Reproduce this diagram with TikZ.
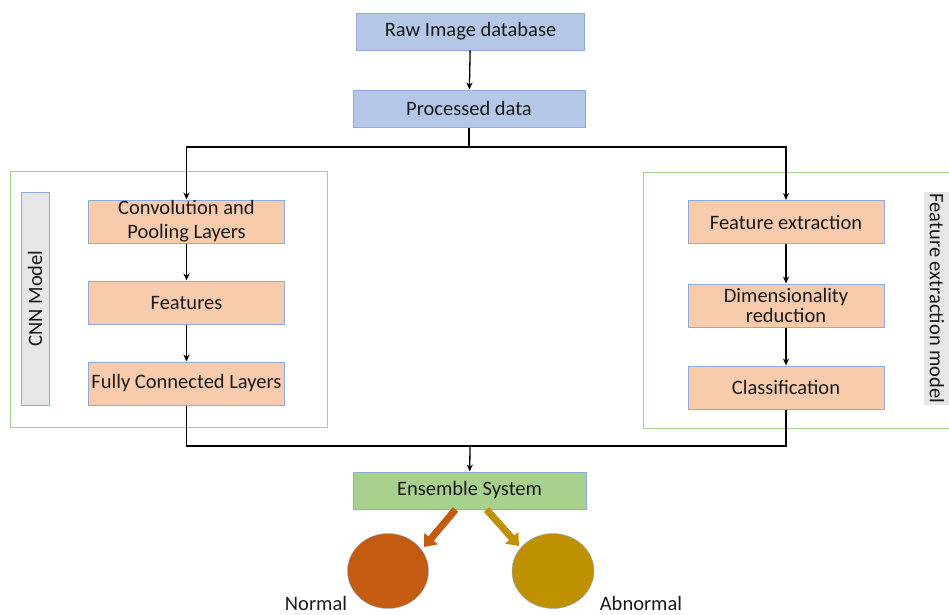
\documentclass[tikz,border=0pt]{standalone}
\usepackage{fontspec}
\setmainfont{Carlito}
\usetikzlibrary{arrows.meta,shapes.geometric}
\definecolor{boxblue}{HTML}{B4C7E7}
\definecolor{edgeblue}{HTML}{8FAADC}
\definecolor{boxorange}{HTML}{F8CBAD}
\definecolor{boxgreen}{HTML}{A9D18E}
\definecolor{tagray}{HTML}{E7E6E6}
\definecolor{normalc}{HTML}{C55A11}
\definecolor{abnormc}{HTML}{BF9000}
\tikzset{
  blue box/.style={draw=edgeblue,line width=1pt,fill=boxblue,minimum width=228pt,minimum height=37pt},
  stage/.style={draw=edgeblue,line width=1pt,fill=boxorange,minimum width=196pt,minimum height=43pt,align=center,inner sep=0pt},
  frame/.style={draw=boxgreen,line width=1pt},
  tag/.style={draw=edgeblue,line width=1pt,fill=tagray,minimum width=213pt,minimum height=28pt,inner sep=0pt},
  link/.style={line width=1.3pt,-{Stealth[length=7pt,width=6pt]}},
  wire/.style={line width=1.3pt},
  fat/.style={line width=7pt,-{Triangle[length=11pt,width=17pt]}}
}
\begin{document}
\begin{tikzpicture}[x=1pt,y=-1pt,font=\fontsize{20.5}{24}\selectfont,text=black!90]
\useasboundingbox (0,0) rectangle (949,614);
\node[blue box] (raw) at (470.5,31.5) {Raw Image database};
\node[blue box,minimum width=232pt] (proc) at (469,108.5) {Processed data};

\draw[frame] (10,171) rectangle (327,427);
\draw[frame] (643,172) -- (955,172) (643,172) -- (643,428) -- (955,428);
\node[tag,rotate=90] (cnn) at (35,298.5) {CNN Model};
\node[tag,rotate=-90,draw=none,minimum height=26pt] (fem) at (937,298.5) {Feature extraction model};

\node[stage] (c1) at (186.5,221.5) {Convolution and\\Pooling Layers};
\node[stage] (c2) at (186.5,302.5) {Features};
\node[stage] (c3) at (186.5,383.5) {Fully Connected Layers};

\node[stage] (f1) at (786,222) {Feature extraction};
\node[stage] (f2) at (786,305.5) {Dimensionality\\[-4pt]reduction};
\node[stage] (f3) at (786,387.5) {Classification};

\node[blue box,fill=boxgreen,minimum width=233pt] (ens) at (469.5,490.5) {Ensemble System};

\node[ellipse,draw=edgeblue,fill=normalc,minimum width=81pt,minimum height=75pt] (nrm) at (388,571) {};
\node[ellipse,draw=edgeblue,fill=abnormc,minimum width=82pt,minimum height=75pt] (abn) at (553,571) {};
\node (nrmtxt) at (316,603) {Normal};
\node (abntxt) at (641,603) {Abnormal};

\coordinate (split) at (469,147);
\coordinate (join) at (470,446);
\coordinate (nrmtip) at (424,547);
\coordinate (abntip) at (519,546);

\draw[link] (raw) -- (proc);
\draw[wire] (proc) -- (split);
\draw[link] (split) -| (c1.north);
\draw[link] (split) -| (f1.north);
\draw[link] (c1) -- (c2);
\draw[link] (c2) -- (c3);
\draw[link] (f1) -- (f2);
\draw[link] (f2) -- (f3);
\draw[wire] (c3.south) |- (join);
\draw[wire] (f3.south) |- (join);
\draw[link] (join) -- (ens);

\draw[fat,normalc] ([xshift=-14pt]ens.south) -- (nrmtip);
\draw[fat,abnormc] ([xshift=17pt]ens.south) -- (abntip);
\end{tikzpicture}
\end{document}
